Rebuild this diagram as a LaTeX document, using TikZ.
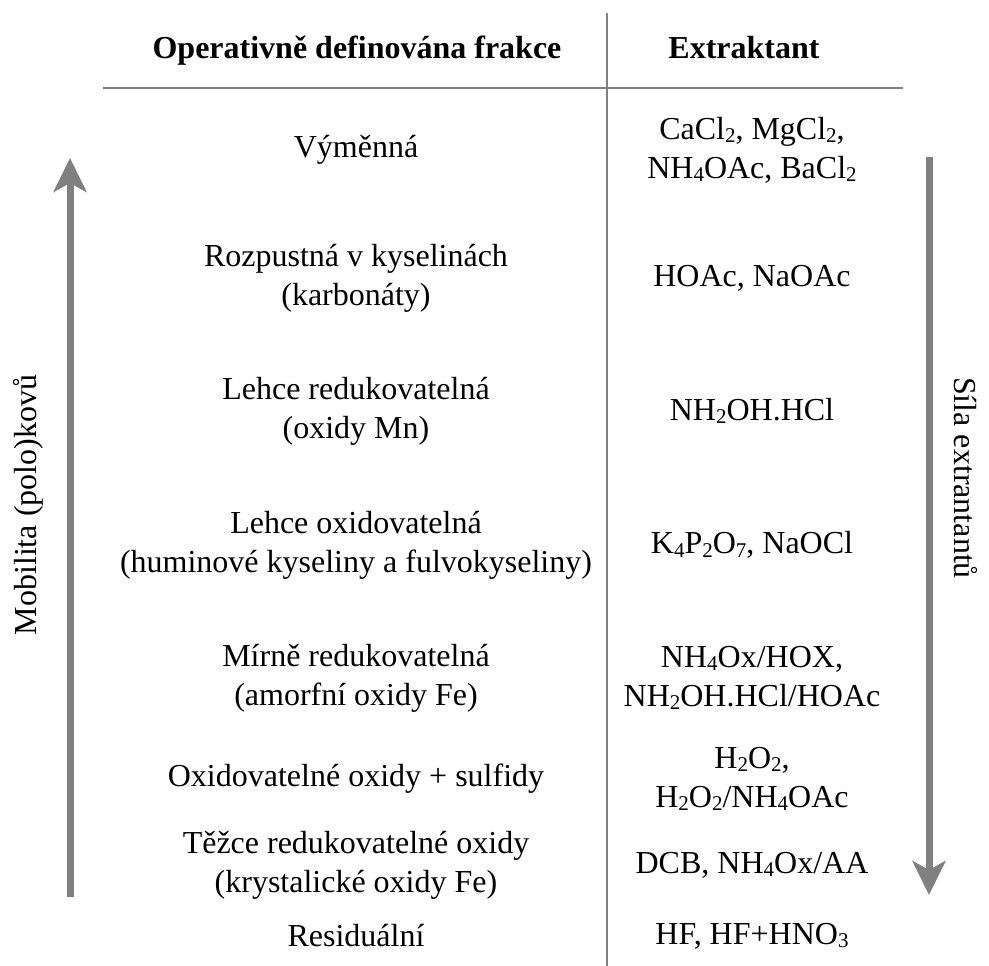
\documentclass[tikz,border=0pt]{standalone}
\usepackage{fontspec}
\setmainfont{Liberation Serif}
\usetikzlibrary{arrows.meta}
\newcommand\Sb[1]{\raisebox{-0.25ex}{\fontsize{21}{21}\selectfont #1}}
\tikzset{
  rule/.style={
    draw = gray,
    line width = 2pt
  },
  bigarrow/.style={
    draw = gray,
    line width = 7pt,
    -{Stealth[length=34pt, width=33pt, inset=9pt]}
  },
}
\tikzset{
  every picture/.style = {
    x = 1pt,
    y = -1pt
  },
  cell/.style={
    align = center,
    inner sep = 0pt,
    font = \fontsize{32}{39}\selectfont
  },
  head/.style={
    cell,
    anchor = base,
    font = \fontsize{32}{39}\selectfont\bfseries
  },
  side/.style={
    cell
  }
}
\begin{document}
\begin{tikzpicture}
        \useasboundingbox (0,0) rectangle (989,966);

        % table lines
        \coordinate (divtop) at (607,13);
        \coordinate (divbot) at (607,966);
        \coordinate (ruleL) at (103,88);
        \coordinate (ruleR) at (903,88);
        \draw[rule] (divtop) -- (divbot);
        \draw[rule] (ruleL) -- (ruleR);

        % header
        \node[head] (hfrac) at (357,59) {Operativně definována frakce};
        \node[head] (hextr) at (744,59) {Extraktant};

        % fractions
        \node[cell] (frac1) at (356,150) {Výměnná};
        \node[cell] (frac2) at (356,278) {Rozpustná v kyselinách\\(karbonáty)};
        \node[cell] (frac3) at (356,411) {Lehce redukovatelná\\(oxidy Mn)};
        \node[cell] (frac4) at (356,545) {Lehce oxidovatelná\\(huminové kyseliny a fulvokyseliny)};
        \node[cell] (frac5) at (356,678) {Mírně redukovatelná\\(amorfní oxidy Fe)};
        \node[cell] (frac6) at (356,779) {Oxidovatelné oxidy + sulfidy};
        \node[cell] (frac7) at (356,865) {Těžce redukovatelné oxidy\\(krystalické oxidy Fe)};
        \node[cell] (frac8) at (356,936) {Residuální};

        % extractants
        \node[cell] (extr1) at (752,150) {CaCl\Sb{2}, MgCl\Sb{2},\\NH\Sb{4}OAc, BaCl\Sb{2}};
        \node[cell] (extr2) at (752,278) {HOAc, NaOAc};
        \node[cell] (extr3) at (752,411) {NH\Sb{2}OH.HCl};
        \node[cell] (extr4) at (752,545) {K\Sb{4}P\Sb{2}O\Sb{7}, NaOCl};
        \node[cell] (extr5) at (752,678) {NH\Sb{4}Ox/HOX,\\NH\Sb{2}OH.HCl/HOAc};
        \node[cell] (extr6) at (752,779) {H\Sb{2}O\Sb{2},\\H\Sb{2}O\Sb{2}/NH\Sb{4}OAc};
        \node[cell] (extr7) at (752,865) {DCB, NH\Sb{4}Ox/AA};
        \node[cell] (extr8) at (752,936) {HF, HF+HNO\Sb{3}};

        % side arrows
        \coordinate (mobbot) at (70,897);
        \coordinate (mobtop) at (70,158);
        \coordinate (silatop) at (929,157);
        \coordinate (silabot) at (929,895);
        \draw[bigarrow] (mobbot) -- (mobtop);
        \draw[bigarrow] (silatop) -- (silabot);

        \node[side, rotate=90] (mobil) at (28,505) {Mobilita (polo)kovů};
        \node[side, rotate=-90] (sila) at (966,478) {Síla extrantantů};
\end{tikzpicture}
\end{document}
